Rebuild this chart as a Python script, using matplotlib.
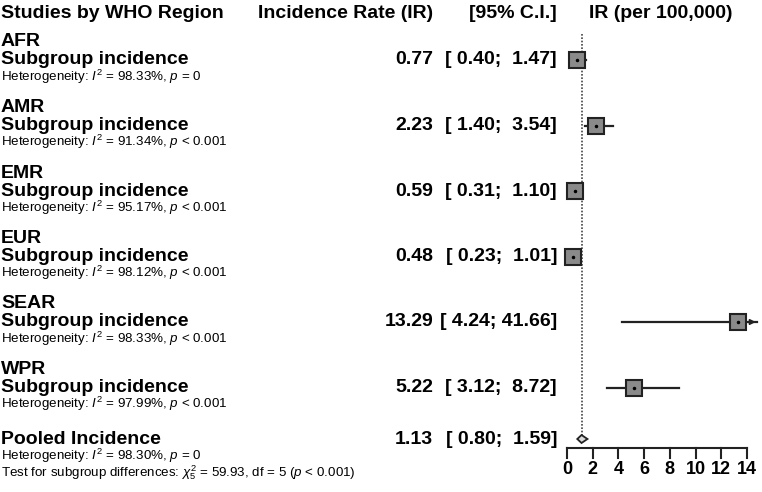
import matplotlib
matplotlib.use("Agg")
from matplotlib import pyplot as plt

plt.rcParams['font.family'] = ['Liberation Sans', 'DejaVu Sans']
plt.rcParams['mathtext.fontset'] = 'custom'
plt.rcParams['mathtext.rm'] = 'Liberation Sans'
plt.rcParams['mathtext.it'] = 'Liberation Sans:italic'
plt.rcParams['mathtext.bf'] = 'Liberation Sans:bold'

regions = ["AFR", "AMR", "EMR", "EUR", "SEAR", "WPR"]
ir = [0.77, 2.23, 0.59, 0.48, 13.29, 5.22]
ci_low = [0.40, 1.40, 0.31, 0.23, 4.24, 3.12]
ci_high = [1.47, 3.54, 1.10, 1.01, 41.66, 8.72]
i2 = [98.33, 91.34, 95.17, 98.12, 98.33, 97.99]
p_text = ["= 0", "< 0.001", "< 0.001", "< 0.001", "< 0.001", "< 0.001"]

pooled_ir = 1.13
pooled_low = 0.80
pooled_high = 1.59
pooled_i2 = 98.30
pooled_p = "= 0"
chi2 = 59.93
df = 5
ticks = [0, 2, 4, 6, 8, 10, 12, 14]

W, H = 762, 492
fig = plt.figure(figsize=(W / 100, H / 100), dpi=100)

# text layer in pixel coords
tx = fig.add_axes([0, 0, 1, 1])
tx.set_xlim(0, W)
tx.set_ylim(H, 0)
tx.axis('off')

# forest layer: 0 at x=567px, 14 at x=747px
fx = fig.add_axes([567 / W, 0, 180 / W, 1])
fx.set_xlim(0, 14)
fx.set_ylim(H, 0)
fx.axis('off')

big = 14
val = 14
small = 9.6

tx.text(1, 13, "Studies by WHO Region", fontsize=big, fontweight='bold', va='center')
tx.text(433, 13, "Incidence Rate (IR)", fontsize=big, fontweight='bold', va='center', ha='right')
tx.text(557, 13, "[95% C.I.]", fontsize=big, fontweight='bold', va='center', ha='right')
tx.text(661, 13, "IR (per 100,000)", fontsize=big, fontweight='bold', va='center', ha='center')

row_step = 65.5
for i, reg in enumerate(regions):
    y = 60 + row_step * i
    tx.text(1, y - 18, reg, fontsize=big, fontweight='bold', va='center')
    tx.text(1, y, "Subgroup incidence", fontsize=big, fontweight='bold', va='center')
    tx.text(1, y + 16.5, r"Heterogeneity: $\mathit{I}^2$ = %.2f%%, $\mathit{p}$ %s" % (i2[i], p_text[i]),
            fontsize=small, va='center')
    tx.text(433, y, "%.2f" % ir[i], fontsize=val, fontweight='bold', va='center', ha='right')
    tx.text(557, y, "[%5.2f; %5.2f]" % (ci_low[i], ci_high[i]), fontsize=val, fontweight='bold',
            va='center', ha='right')

    xmax = 14.75
    if ci_high[i] > xmax:
        fx.plot([ci_low[i], xmax], [y, y], color='#222222', lw=1.6, clip_on=False, zorder=2)
        fx.annotate("", xy=(xmax + 0.15, y), xytext=(xmax - 0.3, y),
                    arrowprops=dict(arrowstyle='-|>', color='#222222', lw=1.2,
                                    mutation_scale=8), annotation_clip=False)
    else:
        fx.plot([ci_low[i], ci_high[i]], [y, y], color='#222222', lw=1.6, clip_on=False, zorder=2)
    fx.plot(ir[i], y, marker='s', markersize=11, markerfacecolor='#8a8a8a',
            markeredgecolor='#222222', markeredgewidth=1.5, clip_on=False, zorder=3)
    fx.plot(ir[i], y, marker='.', markersize=3, color='black', clip_on=False, zorder=4)

yp = 439
tx.text(1, yp, "Pooled Incidence", fontsize=big, fontweight='bold', va='center')
tx.text(1, yp + 17, r"Heterogeneity: $\mathit{I}^2$ = %.2f%%, $\mathit{p}$ = 0" % pooled_i2,
        fontsize=small, va='center')
tx.text(1, yp + 34, r"Test for subgroup differences: $\chi^2_{%d}$ = %.2f, df = %d ($\mathit{p}$ < 0.001)"
        % (df, chi2, df), fontsize=small, va='center')
tx.text(433, yp, "%.2f" % pooled_ir, fontsize=val, fontweight='bold', va='center', ha='right')
tx.text(557, yp, "[%5.2f; %5.2f]" % (pooled_low, pooled_high), fontsize=val, fontweight='bold',
        va='center', ha='right')

# pooled diamond
fx.fill([pooled_low, pooled_ir, pooled_high, pooled_ir], [yp, yp - 4, yp, yp + 4],
        facecolor='#d9d9d9', edgecolor='#222222', lw=1.3, clip_on=False, zorder=3)

# reference line at pooled estimate
fx.plot([pooled_ir, pooled_ir], [34, yp - 4], color='#444444', lw=1.2, ls=(0, (1, 1)), zorder=1)

# x axis
ax_y = 448
fx.plot([ticks[0], ticks[-1]], [ax_y, ax_y], color='#222222', lw=1.5, clip_on=False)
for t in ticks:
    fx.plot([t, t], [ax_y, ax_y + 10], color='#222222', lw=1.5, clip_on=False)
    fx.text(t, 470, str(t), fontsize=13, fontweight='bold', ha='center', va='center')

fig.savefig("out.png", dpi=100, facecolor='white')
